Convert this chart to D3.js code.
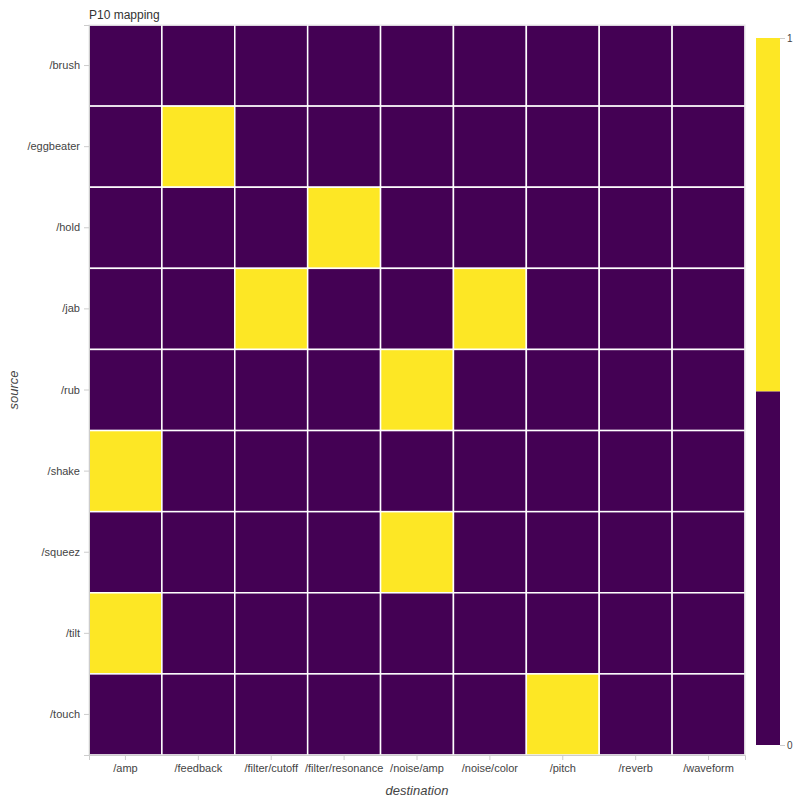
<!DOCTYPE html>
<html><head><meta charset="utf-8">
<script src="https://cdn.jsdelivr.net/npm/d3@7"></script>
<style>body{margin:0;background:#fff}text{font-family:Helvetica,Arial,"Liberation Sans",sans-serif}</style>
</head><body><svg id="c" width="800" height="800"></svg>
<script>
const sources=["/brush","/eggbeater","/hold","/jab","/rub","/shake","/squeez","/tilt","/touch"];
const destinations=["/amp","/feedback","/filter/cutoff","/filter/resonance","/noise/amp","/noise/color","/pitch","/reverb","/waveform"];
const links=[["/eggbeater","/feedback"],["/hold","/filter/resonance"],["/jab","/filter/cutoff"],["/jab","/noise/color"],["/rub","/noise/amp"],["/shake","/amp"],["/squeez","/noise/amp"],["/tilt","/amp"],["/touch","/pitch"]];
const colorTicks=[0,1];

const svg=d3.select("#c");
const L=89,R=745,T=25,B=755;
const x=d3.scaleBand().domain(destinations).range([L,R]);
const y=d3.scaleBand().domain(sources).range([T,B]);
const col=d3.scaleQuantize().domain([0,1]).range(["#440154","#fde725"]);
const cells=[];
sources.forEach(s=>destinations.forEach(d=>cells.push({s,d,v:links.some(l=>l[0]===s&&l[1]===d)?1:0})));
svg.append("g").selectAll("rect").data(cells).join("rect")
 .attr("x",c=>x(c.d)).attr("y",c=>y(c.s)).attr("width",x.bandwidth()).attr("height",y.bandwidth())
 .attr("fill",c=>col(c.v)).attr("stroke","#fff").attr("stroke-width",1.5);
svg.append("rect").attr("x",L).attr("y",T).attr("width",R-L).attr("height",B-T).attr("fill","none").attr("stroke","#e5e5e5").attr("stroke-width",1);

const ax=svg.append("g").attr("transform",`translate(0,${B})`).call(d3.axisBottom(x).tickSizeOuter(0).tickSize(5).tickPadding(4));
const ay=svg.append("g").attr("transform",`translate(${L},0)`).call(d3.axisLeft(y).tickSizeOuter(0).tickSize(5).tickPadding(4));
[ax,ay].forEach(a=>{a.select(".domain").attr("stroke","#ccc");a.selectAll(".tick line").attr("stroke","#ccc");a.selectAll("text").attr("font-size",11).attr("fill","#444");});

svg.append("text").attr("x",L).attr("y",19).attr("font-size",12).attr("fill","#333").text("P10 mapping");
svg.append("text").attr("x",(L+R)/2).attr("y",795).attr("text-anchor","middle").attr("font-size",13).attr("font-style","italic").attr("fill","#444").text("destination");
svg.append("text").attr("transform",`translate(18,${(T+B)/2}) rotate(-90)`).attr("text-anchor","middle").attr("font-size",13).attr("font-style","italic").attr("fill","#444").text("source");

const cy=d3.scaleLinear().domain([0,1]).range([745,38]);
const cb=svg.append("g");
cb.append("rect").attr("x",756).attr("y",cy(1)).attr("width",24).attr("height",cy(0.5)-cy(1)).attr("fill",col(1));
cb.append("rect").attr("x",756).attr("y",cy(0.5)).attr("width",24).attr("height",cy(0)-cy(0.5)).attr("fill",col(0));
const ca=svg.append("g").attr("transform","translate(780,0)").call(d3.axisRight(cy).tickValues(colorTicks).tickFormat(d3.format("d")).tickSize(5).tickPadding(2));
ca.select(".domain").remove();ca.selectAll(".tick line").attr("stroke","#ccc");ca.selectAll("text").attr("font-size",10).attr("fill","#444");
</script></body></html>
